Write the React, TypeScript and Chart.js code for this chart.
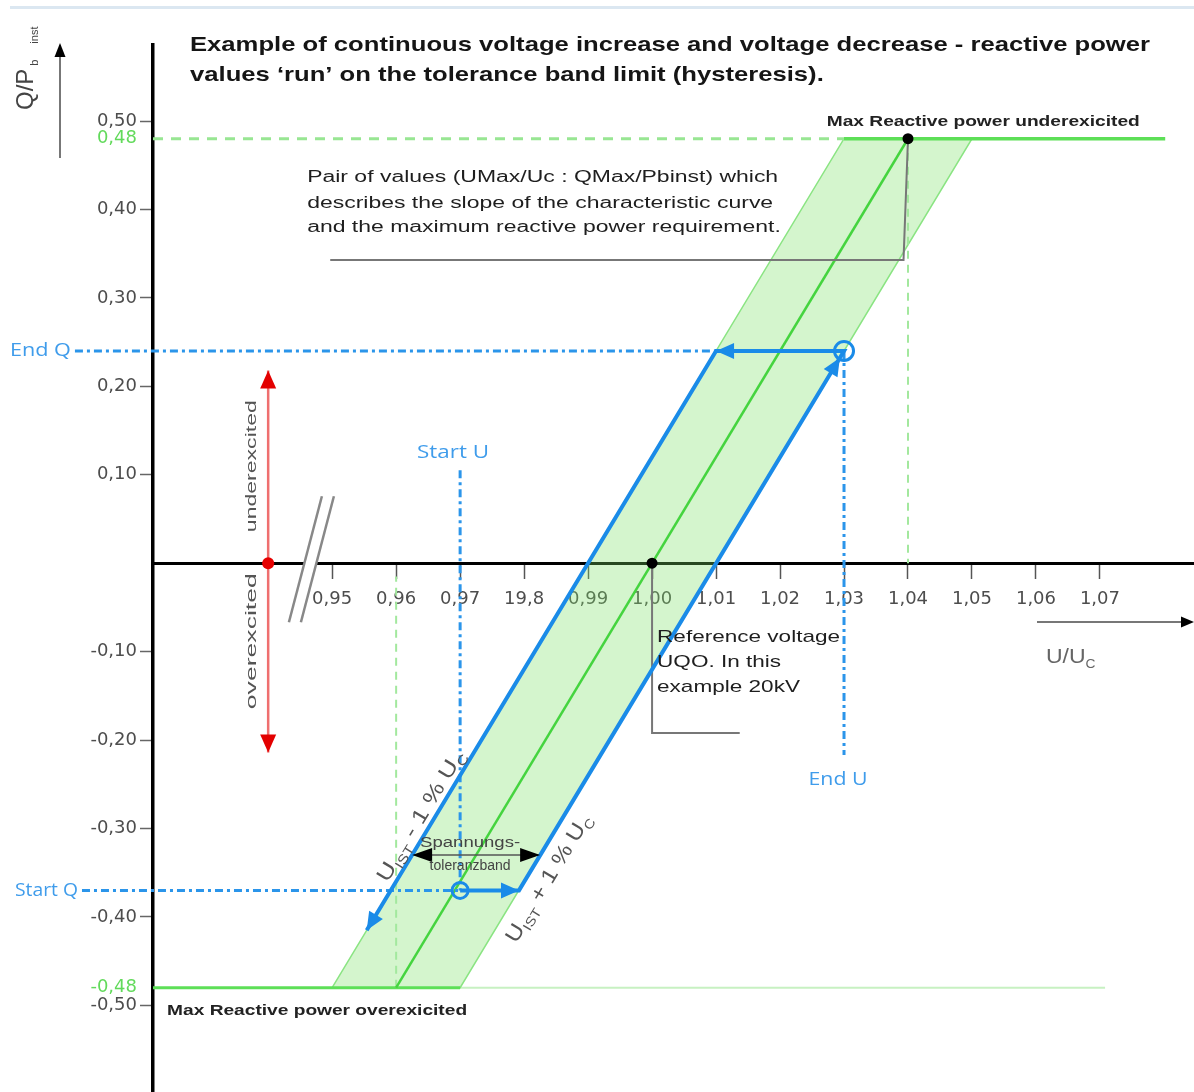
import React, { useEffect, useRef } from 'react';
import { Chart, registerables } from 'chart.js';

Chart.register(...registerables);

// ---------- axes ----------
const X_MIN = 0.922;
const X_MAX = 1.0847;
const Y_MIN = -0.598;
const Y_MAX = 0.586;

const xTickValues = [0.95, 0.96, 0.97, 0.98, 0.99, 1.0, 1.01, 1.02, 1.03, 1.04, 1.05, 1.06, 1.07];
const xTickLabels = ['0,95', '0,96', '0,97', '19,8', '0,99', '1,00', '1,01', '1,02', '1,03', '1,04', '1,05', '1,06', '1,07'];
const yTickValues = [0.5, 0.48, 0.4, 0.3, 0.2, 0.1, -0.1, -0.2, -0.3, -0.4, -0.48, -0.5];
const yTickLabels = ['0,50', '0,48', '0,40', '0,30', '0,20', '0,10', '-0,10', '-0,20', '-0,30', '-0,40', '-0,48', '-0,50'];

// ---------- characteristic & tolerance band ----------
const bandU = [0.95, 0.97, 1.05, 1.03, 0.95];
const bandQ = [-0.48, -0.48, 0.48, 0.48, -0.48];
const curveU = [0.96, 1.04];
const curveQ = [-0.48, 0.48];

// limit lines (max reactive power)
const maxQDashU = [0.922, 1.03];
const maxQDashQ = [0.48, 0.48];
const maxQSolidU = [1.03, 1.0802];
const maxQSolidQ = [0.48, 0.48];
const minQSolidU = [0.922, 0.97];
const minQSolidQ = [-0.48, -0.48];
const minQFaintU = [0.97, 1.0708];
const minQFaintQ = [-0.48, -0.48];
const vLow096U = [0.96, 0.96];
const vLow096Q = [-0.48, -0.015];
const vHigh104U = [1.04, 1.04];
const vHigh104Q = [0.48, 0.0];

// hysteresis path
const hystU = [0.97, 0.9792, 1.03, 1.01, 0.9554];
const hystQ = [-0.37, -0.37, 0.24, 0.24, -0.415];
const startU = 0.97;
const startQ = -0.37;
const endU = 1.03;
const endQ = 0.24;

// blue guide lines
const endQGuideU = [0.9098, 1.03];
const endQGuideQ = [0.24, 0.24];
const startQGuideU = [0.9109, 0.97];
const startQGuideQ = [-0.37, -0.37];
const startUGuideU = [0.97, 0.97];
const startUGuideQ = [0.105, -0.37];
const endUGuideU = [1.03, 1.03];
const endUGuideQ = [0.24, -0.217];

// excitation arrow
const excU = [0.94, 0.94];
const excQ = [0.218, -0.214];

// call-out lines
const callout1U = [1.04, 1.0393, 0.9497];
const callout1Q = [0.48, 0.343, 0.343];
const callout2U = [1.0, 1.0, 1.0137];
const callout2Q = [0.0, -0.192, -0.192];

// tolerance band width arrow
const tolArrowU = [0.9625, 0.9825];
const tolArrowQ = [-0.33, -0.33];

const pts = (us: number[], qs: number[]) => us.map((u, i) => ({ x: u, y: qs[i] }));

const BLUE = '#1a8be8';
const BLUE_LIGHT = '#3f9ceb';
const GREEN = '#45d43f';

type Seg = { t: string; sub?: boolean };

function arrowHead(ctx: CanvasRenderingContext2D, tx: number, ty: number, fx: number, fy: number, len: number, halfW: number, color: string) {
  const a = Math.atan2(ty - fy, tx - fx);
  ctx.save();
  ctx.translate(tx, ty);
  ctx.rotate(a);
  ctx.beginPath();
  ctx.moveTo(0, 0);
  ctx.lineTo(-len, -halfW);
  ctx.lineTo(-len, halfW);
  ctx.closePath();
  ctx.fillStyle = color;
  ctx.fill();
  ctx.restore();
}

function measure(ctx: CanvasRenderingContext2D, text: string, font: string) {
  ctx.save();
  ctx.font = font;
  const w = ctx.measureText(text).width;
  ctx.restore();
  return w;
}

function drawText(ctx: CanvasRenderingContext2D, text: string, x: number, y: number, font: string, color: string, sx = 1, align: CanvasTextAlign = 'left') {
  ctx.save();
  ctx.font = font;
  ctx.fillStyle = color;
  ctx.textBaseline = 'middle';
  ctx.textAlign = align;
  ctx.translate(x, y);
  ctx.scale(sx, 1);
  ctx.fillText(text, 0, 0);
  ctx.restore();
}

function richWidth(ctx: CanvasRenderingContext2D, segs: Seg[], size: number, family: string) {
  let w = 0;
  for (const s of segs) {
    ctx.font = `${s.sub ? Math.round(size * 0.62) : size}px ${family}`;
    w += ctx.measureText(s.t).width;
  }
  return w;
}

function drawRich(ctx: CanvasRenderingContext2D, segs: Seg[], x: number, y: number, size: number, family: string, color: string, align: 'left' | 'center', sx = 1) {
  ctx.save();
  ctx.translate(x, y);
  ctx.scale(sx, 1);
  const total = richWidth(ctx, segs, size, family);
  let cx = align === 'center' ? -total / 2 : 0;
  ctx.fillStyle = color;
  ctx.textAlign = 'left';
  ctx.textBaseline = 'alphabetic';
  const base = size * 0.36;
  for (const s of segs) {
    ctx.font = `${s.sub ? Math.round(size * 0.62) : size}px ${family}`;
    ctx.fillText(s.t, cx, s.sub ? base + size * 0.25 : base);
    cx += ctx.measureText(s.t).width;
  }
  ctx.restore();
}

const SANS = '"Liberation Sans", Arial, sans-serif';
const BLUEFONT = '"Open Sans", "Liberation Sans", sans-serif';

const annotationPlugin = {
  id: 'diagramAnnotations',
  afterDraw(chart: any) {
    const ctx: CanvasRenderingContext2D = chart.ctx;
    const xs = chart.scales.x;
    const ys = chart.scales.y;
    const X = (u: number) => xs.getPixelForValue(u);
    const Y = (q: number) => ys.getPixelForValue(q);
    ctx.save();

    // top border strip of the original figure
    ctx.fillStyle = '#dbe7f1';
    ctx.fillRect(10, 6, 1184, 3);

    // axis break
    const bx = X(0.9466);
    const by = Y(0);
    ctx.fillStyle = '#fff';
    ctx.fillRect(bx - 6, by - 3, 12, 6);
    ctx.strokeStyle = '#888';
    ctx.lineWidth = 2.5;
    for (const off of [-6, 6]) {
      ctx.beginPath();
      ctx.moveTo(bx + off - 15.5, by + 59);
      ctx.lineTo(bx + off + 17.5, by - 67);
      ctx.stroke();
    }

    // title
    const titleFont = `bold 21px ${SANS}`;
    const t1 = 'Example of continuous voltage increase and voltage decrease - reactive power';
    const t2 = 'values \u2018run\u2019 on the tolerance band limit (hysteresis).';
    const tsx = 960 / measure(ctx, t1, titleFont);
    drawText(ctx, t1, 190, 45, titleFont, '#151515', tsx);
    drawText(ctx, t2, 190, 75, titleFont, '#151515', tsx);

    // max reactive power labels
    const maxFont = `bold 15px ${SANS}`;
    const m1 = 'Max Reactive power underexicited';
    const m2 = 'Max Reactive power overexicited';
    drawText(ctx, m1, X(1.0273), Y(0.499), maxFont, '#222', 313 / measure(ctx, m1, maxFont));
    drawText(ctx, m2, X(0.9242), Y(-0.5057), maxFont, '#222', 300 / measure(ctx, m2, maxFont));

    // pair of values note
    const noteFont = `16px ${SANS}`;
    const p1 = 'Pair of values (UMax/Uc : QMax/Pbinst) which';
    const p2 = 'describes the slope of the characteristic curve';
    const p3 = 'and the maximum reactive power requirement.';
    const psx = 466 / measure(ctx, p2, noteFont);
    drawText(ctx, p1, X(0.94609), Y(0.4355), noteFont, '#1e1e1e', psx);
    drawText(ctx, p2, X(0.94609), Y(0.4072), noteFont, '#1e1e1e', psx);
    drawText(ctx, p3, X(0.94609), Y(0.379), noteFont, '#1e1e1e', psx);

    // reference voltage note
    const refFont = `17px ${SANS}`;
    const r1 = 'Reference voltage';
    const rsx = 183 / measure(ctx, r1, refFont);
    drawText(ctx, r1, X(1.00078), Y(-0.0837), refFont, '#1e1e1e', rsx);
    drawText(ctx, 'UQO. In this', X(1.00078), Y(-0.112), refFont, '#1e1e1e', rsx);
    drawText(ctx, 'example 20kV', X(1.00078), Y(-0.1403), refFont, '#1e1e1e', rsx);

    // excitation arrow heads, labels, dot
    arrowHead(ctx, X(excU[0]), Y(excQ[0]), X(excU[0]), Y(excQ[0]) + 20, 18, 8, '#e30000');
    arrowHead(ctx, X(excU[1]), Y(excQ[1]), X(excU[1]), Y(excQ[1]) - 20, 18, 8, '#e30000');
    ctx.beginPath();
    ctx.arc(X(excU[0]), Y(0), 6, 0, Math.PI * 2);
    ctx.fillStyle = '#e60000';
    ctx.fill();
    const exFont = `15px ${SANS}`;
    for (const [txt, q, len] of [['underexcited', 0.1097, 132], ['overexcited', -0.0882, 136]] as [string, number, number][]) {
      ctx.save();
      ctx.translate(X(0.9375), Y(q));
      ctx.rotate(-Math.PI / 2);
      drawText(ctx, txt, 0, 0, exFont, '#555', len / measure(ctx, txt, exFont), 'center');
      ctx.restore();
    }

    // black dots
    ctx.fillStyle = '#000';
    for (const [u, q] of [[1.0, 0.0], [curveU[1], curveQ[1]]]) {
      ctx.beginPath();
      ctx.arc(X(u), Y(q), 5.5, 0, Math.PI * 2);
      ctx.fill();
    }

    // hysteresis arrow heads
    const P = hystU.map((u, i) => [X(u), Y(hystQ[i])]);
    arrowHead(ctx, P[1][0], P[1][1], P[0][0], P[0][1], 18, 8, BLUE);
    {
      const dx = P[2][0] - P[1][0];
      const dy = P[2][1] - P[1][1];
      const L = Math.hypot(dx, dy);
      const tx = P[2][0] - (dx / L) * 8;
      const ty = P[2][1] - (dy / L) * 8;
      arrowHead(ctx, tx, ty, P[1][0], P[1][1], 18, 8, BLUE);
    }
    arrowHead(ctx, P[3][0], P[3][1], P[2][0], P[2][1], 18, 8, BLUE);
    arrowHead(ctx, P[4][0], P[4][1], P[3][0], P[3][1], 18, 8, BLUE);

    // start / end circles
    ctx.strokeStyle = BLUE;
    ctx.lineWidth = 3;
    ctx.beginPath();
    ctx.arc(X(startU), Y(startQ), 8, 0, Math.PI * 2);
    ctx.stroke();
    ctx.beginPath();
    ctx.arc(X(endU), Y(endQ), 9.5, 0, Math.PI * 2);
    ctx.stroke();

    // blue labels
    const bf = `18px ${BLUEFONT}`;
    drawText(ctx, 'End Q', X(endQGuideU[0]) - 4, Y(endQ), bf, BLUE_LIGHT, 61 / measure(ctx, 'End Q', bf), 'right');
    drawText(ctx, 'Start Q', X(startQGuideU[0]) - 4, Y(startQ), bf, BLUE_LIGHT, 63 / measure(ctx, 'Start Q', bf), 'right');
    drawText(ctx, 'Start U', X(0.9689), Y(0.1244), bf, BLUE_LIGHT, 72 / measure(ctx, 'Start U', bf), 'center');
    drawText(ctx, 'End U', X(1.02906), Y(-0.2455), bf, BLUE_LIGHT, 59 / measure(ctx, 'End U', bf), 'center');

    // tolerance band arrow heads + text
    const ta = [X(tolArrowU[0]), X(tolArrowU[1])];
    const tyy = Y(tolArrowQ[0]);
    arrowHead(ctx, ta[0], tyy, ta[0] + 30, tyy, 20, 7, '#000');
    arrowHead(ctx, ta[1], tyy, ta[1] - 30, tyy, 20, 7, '#000');
    const sf = `14px ${SANS}`;
    drawText(ctx, 'Spannungs-', X(0.97156), Y(-0.3167), sf, '#444', 100 / measure(ctx, 'Spannungs-', sf), 'center');
    drawText(ctx, 'toleranzband', X(0.97156), Y(-0.3428), sf, '#444', 1, 'center');

    // rotated edge labels
    const ang = Math.atan2(Y(bandQ[2]) - Y(bandQ[1]), X(bandU[2]) - X(bandU[1]));
    const nx = Math.sin(ang);
    const ny = -Math.cos(ang);
    const leftEdgeAt = (q: number) => bandU[0] + ((q - bandQ[0]) / (bandQ[3] - bandQ[0])) * (bandU[3] - bandU[0]);
    const rightEdgeAt = (q: number) => bandU[1] + ((q - bandQ[1]) / (bandQ[2] - bandQ[1])) * (bandU[2] - bandU[1]);
    const segL: Seg[] = [{ t: 'U' }, { t: 'IST', sub: true }, { t: ' - 1 % U' }, { t: 'C', sub: true }];
    const segR: Seg[] = [{ t: 'U' }, { t: 'IST', sub: true }, { t: ' + 1 % U' }, { t: 'C', sub: true }];
    const rfam = SANS;
    const rsize = 21;
    {
      const q = -0.293;
      const cx = X(leftEdgeAt(q)) + nx * 14;
      const cy = Y(q) + ny * 14;
      ctx.save();
      ctx.translate(cx, cy);
      ctx.rotate(ang);
      const w = richWidth(ctx, segL, rsize, rfam);
      drawRich(ctx, segL, 0, 0, rsize, rfam, '#555', 'center', 150 / w);
      ctx.restore();
    }
    {
      const q = -0.345;
      const cx = X(rightEdgeAt(q)) - nx * 18;
      const cy = Y(q) - ny * 18;
      ctx.save();
      ctx.translate(cx, cy);
      ctx.rotate(ang);
      const w = richWidth(ctx, segR, rsize, rfam);
      drawRich(ctx, segR, 0, 0, rsize, rfam, '#555', 'center', 146 / w);
      ctx.restore();
    }

    // y axis label + arrow
    ctx.strokeStyle = '#777';
    ctx.lineWidth = 2;
    ctx.beginPath();
    ctx.moveTo(60, 158);
    ctx.lineTo(60, 54);
    ctx.stroke();
    arrowHead(ctx, 60, 43, 60, 60, 14, 5.5, '#000');
    ctx.save();
    ctx.translate(33, 110);
    ctx.rotate(-Math.PI / 2);
    ctx.fillStyle = '#444';
    ctx.textBaseline = 'alphabetic';
    ctx.font = `24px ${SANS}`;
    ctx.fillText('Q/P', 0, 0);
    const qw = ctx.measureText('Q/P').width;
    ctx.font = `11px ${SANS}`;
    ctx.fillText('b', qw + 3, 5);
    ctx.fillText('inst', qw + 25, 5);
    ctx.restore();

    // x axis label + arrow
    ctx.strokeStyle = '#777';
    ctx.lineWidth = 2;
    ctx.beginPath();
    ctx.moveTo(1037, 622);
    ctx.lineTo(1182, 622);
    ctx.stroke();
    arrowHead(ctx, 1194, 622, 1170, 622, 13, 5.5, '#000');
    drawRich(ctx, [{ t: 'U/U' }, { t: 'C', sub: true }], 1046, 656, 20, SANS, '#666', 'left', 1.15);

    ctx.restore();
  },
};

export default function App() {
  const ref = useRef<HTMLCanvasElement>(null);

  useEffect(() => {
    if (!ref.current) return;
    const ds: any[] = [];
    const line = (data: any[], color: string, width: number, extra: any = {}) =>
      ds.push({ data, borderColor: color, borderWidth: width, pointRadius: 0, pointHoverRadius: 0, fill: false, tension: 0, ...extra });

    // bottom -> top drawing order
    line(pts(bandU, bandQ), '#8ae482', 1.5, { fill: 'shape', backgroundColor: 'rgba(120,225,100,0.32)' });
    line(pts(minQFaintU, minQFaintQ), 'rgba(130,225,120,0.45)', 2);
    line(pts(vLow096U, vLow096Q), '#a3e89e', 2, { borderDash: [8, 6] });
    line(pts(vHigh104U, vHigh104Q), '#a3e89e', 2, { borderDash: [8, 6] });
    line(pts(maxQDashU, maxQDashQ), '#98e693', 3, { borderDash: [10, 8] });
    line(pts(maxQSolidU, maxQSolidQ), '#5ddf57', 3.5);
    line(pts(minQSolidU, minQSolidQ), '#5ddf57', 3);
    line(pts(curveU, curveQ), GREEN, 2.5);
    line(pts(callout1U, callout1Q), '#777', 2);
    line(pts(callout2U, callout2Q), '#777', 2);
    line(pts(endQGuideU, endQGuideQ), '#2b95ea', 3, { borderDash: [8, 4, 3, 4], clip: false });
    line(pts(startQGuideU, startQGuideQ), '#2b95ea', 3, { borderDash: [8, 4, 3, 4], clip: false });
    line(pts(startUGuideU, startUGuideQ), '#2b95ea', 3, { borderDash: [8, 4, 3, 4], clip: false });
    line(pts(endUGuideU, endUGuideQ), '#2b95ea', 3, { borderDash: [8, 4, 3, 4], clip: false });
    line(pts(excU, excQ), '#ef6f6f', 2.5);
    line(pts(tolArrowU, tolArrowQ), '#555', 1.5);
    line(pts(hystU, hystQ), BLUE, 4, { borderJoinStyle: 'miter' });
    const N = ds.length;
    ds.forEach((d, i) => (d.order = N - i));

    Chart.defaults.font.family = SANS;

    const chart = new Chart(ref.current, {
      type: 'line',
      data: { datasets: ds },
      plugins: [annotationPlugin],
      options: {
        responsive: false,
        animation: false,
        devicePixelRatio: 1,
        layout: { padding: { top: 45, left: 0, right: 0, bottom: 0 } },
        plugins: { legend: { display: false }, tooltip: { enabled: false } },
        events: [],
        scales: {
          x: {
            type: 'linear',
            min: X_MIN,
            max: X_MAX,
            position: { y: 0 },
            z: 1,
            afterBuildTicks: (scale: any) => {
              scale.ticks = xTickValues.map((v) => ({ value: v }));
            },
            afterFit: (scale: any) => {
              scale.paddingLeft = 0;
              scale.paddingRight = 0;
            },
            ticks: {
              autoSkip: false,
              maxRotation: 0,
              minRotation: 0,
              padding: 11,
              color: '#4d4d4d',
              font: { family: '"DejaVu Sans", sans-serif', size: 18 },
              callback: (value: any) => {
                const i = xTickValues.findIndex((v) => Math.abs(v - Number(value)) < 1e-9);
                return i >= 0 ? xTickLabels[i] : '';
              },
            },
            grid: { drawOnChartArea: false, drawTicks: true, tickLength: 14, tickColor: '#555', tickWidth: 1.5 },
            border: { display: true, color: '#000', width: 3 },
          },
          y: {
            type: 'linear',
            min: Y_MIN,
            max: Y_MAX,
            position: 'left',
            z: 1,
            afterBuildTicks: (scale: any) => {
              scale.ticks = yTickValues.map((v) => ({ value: v }));
            },
            afterFit: (scale: any) => {
              scale.width = 153;
              scale.paddingTop = 0;
              scale.paddingBottom = 0;
            },
            ticks: {
              autoSkip: false,
              padding: 3,
              color: (c: any) => (c.tick && Math.abs(Math.abs(c.tick.value) - 0.48) < 1e-9 ? '#62da5b' : '#4d4d4d'),
              font: { family: '"DejaVu Sans", sans-serif', size: 18 },
              callback: (value: any) => {
                const i = yTickValues.findIndex((v) => Math.abs(v - Number(value)) < 1e-9);
                return i >= 0 ? yTickLabels[i] : '';
              },
            },
            grid: {
              drawOnChartArea: false,
              drawTicks: true,
              tickLength: 13,
              tickWidth: 1.5,
              tickColor: (c: any) => (c.tick && Math.abs(Math.abs(c.tick.value) - 0.48) < 1e-9 ? 'rgba(0,0,0,0)' : '#666'),
            },
            border: { display: true, color: '#000', width: 3.5 },
          },
        },
      } as any,
    });

    return () => chart.destroy();
  }, []);

  return (
    <div style={{ position: 'absolute', left: 0, top: 0, width: 1194, height: 1092, background: '#fff' }}>
      <canvas ref={ref} width={1194} height={1092} style={{ display: 'block', width: 1194, height: 1092 }} />
    </div>
  );
}
